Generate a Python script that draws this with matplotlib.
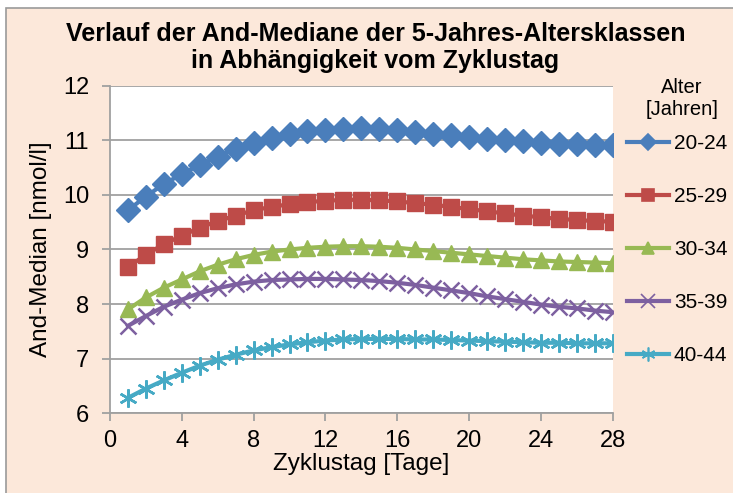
import numpy as np
import matplotlib.pyplot as plt
from matplotlib.lines import Line2D
from matplotlib.patches import Rectangle

plt.rcParams['font.family'] = ['Liberation Sans', 'DejaVu Sans']

days = list(range(1, 29))
labels = ['20-24', '25-29', '30-34', '35-39', '40-44']
s2024 = [9.72, 9.97, 10.2, 10.38, 10.55, 10.7, 10.85, 10.96, 11.05, 11.12, 11.17, 11.19, 11.21, 11.22,
         11.21, 11.19, 11.16, 11.12, 11.09, 11.06, 11.03, 11.0, 10.98, 10.96, 10.94, 10.93, 10.92, 10.91]
s2529 = [8.68, 8.9, 9.1, 9.25, 9.4, 9.52, 9.62, 9.72, 9.78, 9.83, 9.87, 9.89, 9.91, 9.91,
         9.9, 9.88, 9.85, 9.82, 9.78, 9.74, 9.7, 9.66, 9.62, 9.59, 9.56, 9.54, 9.52, 9.51]
s3034 = [7.9, 8.12, 8.3, 8.45, 8.6, 8.72, 8.82, 8.9, 8.96, 9.0, 9.03, 9.05, 9.06, 9.06,
         9.05, 9.03, 9.0, 8.97, 8.94, 8.91, 8.88, 8.85, 8.82, 8.8, 8.78, 8.77, 8.76, 8.75]
s3539 = [7.6, 7.78, 7.95, 8.08, 8.2, 8.29, 8.36, 8.41, 8.44, 8.45, 8.46, 8.46, 8.45, 8.44,
         8.42, 8.39, 8.35, 8.3, 8.25, 8.2, 8.14, 8.09, 8.04, 7.99, 7.95, 7.92, 7.88, 7.85]
s4044 = [6.28, 6.45, 6.6, 6.74, 6.87, 6.98, 7.07, 7.15, 7.21, 7.26, 7.3, 7.33, 7.35, 7.36,
         7.36, 7.36, 7.35, 7.35, 7.34, 7.33, 7.32, 7.31, 7.3, 7.29, 7.29, 7.28, 7.28, 7.28]

series = [s2024, s2529, s3034, s3539, s4044]
colors = ['#4A7EBB', '#BE4B48', '#98B954', '#7D60A0', '#46AAC5']
markers = ['D', 's', '^', 'x', (6, 2, 0)]
msizes = [12, 12, 12, 12, 13]

bg = '#FCE8DA'
fig = plt.figure(figsize=(7.33, 4.93), dpi=100, facecolor='white')
# peach panel with thin grey frame
fig.patches.append(Rectangle((6 / 733, -0.01), 1.0, 1 - 8 / 493 + 0.01, transform=fig.transFigure,
                             facecolor=bg, edgecolor='#9A9A9A', lw=1.2, zorder=-10))

ax = fig.add_axes([0.150, 0.162, 0.686, 0.664])
ax.set_facecolor('white')

handles = []
for vals, col, mk, ms, lab in zip(series, colors, markers, msizes, labels):
    thin = mk in ('x', (6, 2, 0))
    ax.plot(days, vals, color=col, lw=3, marker=mk, markersize=ms,
            markeredgewidth=1.8 if thin else 1, markeredgecolor=col, markerfacecolor=col)
    handles.append(Line2D([], [], color=col, lw=3, marker=mk, markersize=8 if not thin else 10,
                          markeredgecolor=col, markerfacecolor=col, markeredgewidth=1.2, label=lab))

ax.set_xlim(0, 28)
ax.set_ylim(6, 12)
ax.set_xticks(range(0, 29, 4))
ax.set_yticks(range(6, 13))
ax.grid(axis='y', color='#A0A0A0', lw=1.3)
ax.set_axisbelow(True)
for sp in ['top', 'right']:
    ax.spines[sp].set_visible(False)
for sp in ['left', 'bottom']:
    ax.spines[sp].set_color('#A0A0A0')
    ax.spines[sp].set_linewidth(1.3)
ax.tick_params(axis='both', labelsize=17, color='#A0A0A0', length=6, width=1.3)
ax.tick_params(axis='y', pad=9)
ax.tick_params(axis='x', pad=6)
ax.set_xlabel('Zyklustag [Tage]', fontsize=17.5, labelpad=1)
ax.set_ylabel('And-Median [nmol/l]', fontsize=17.5, labelpad=8)

fig.text(0.512, 0.955, 'Verlauf der And-Mediane der 5-Jahres-Altersklassen\nin Abhängigkeit vom Zyklustag',
         ha='center', va='top', fontsize=18, fontweight='bold', linespacing=1.15)

# legend title drawn separately so its gap to the entries stays small
fig.text(682 / 733, 1 - 78 / 493, 'Alter\n[Jahren]', ha='center', va='top', fontsize=14.5,
         linespacing=1.2)
leg = fig.legend(handles=handles, loc='upper left', bbox_to_anchor=(627 / 733, 1 - 134 / 493),
                 frameon=False, fontsize=15, labelspacing=1.63, handlelength=2.0,
                 handletextpad=0.25, borderpad=0, borderaxespad=0)

fig.savefig('out.png', dpi=100, facecolor='white')
